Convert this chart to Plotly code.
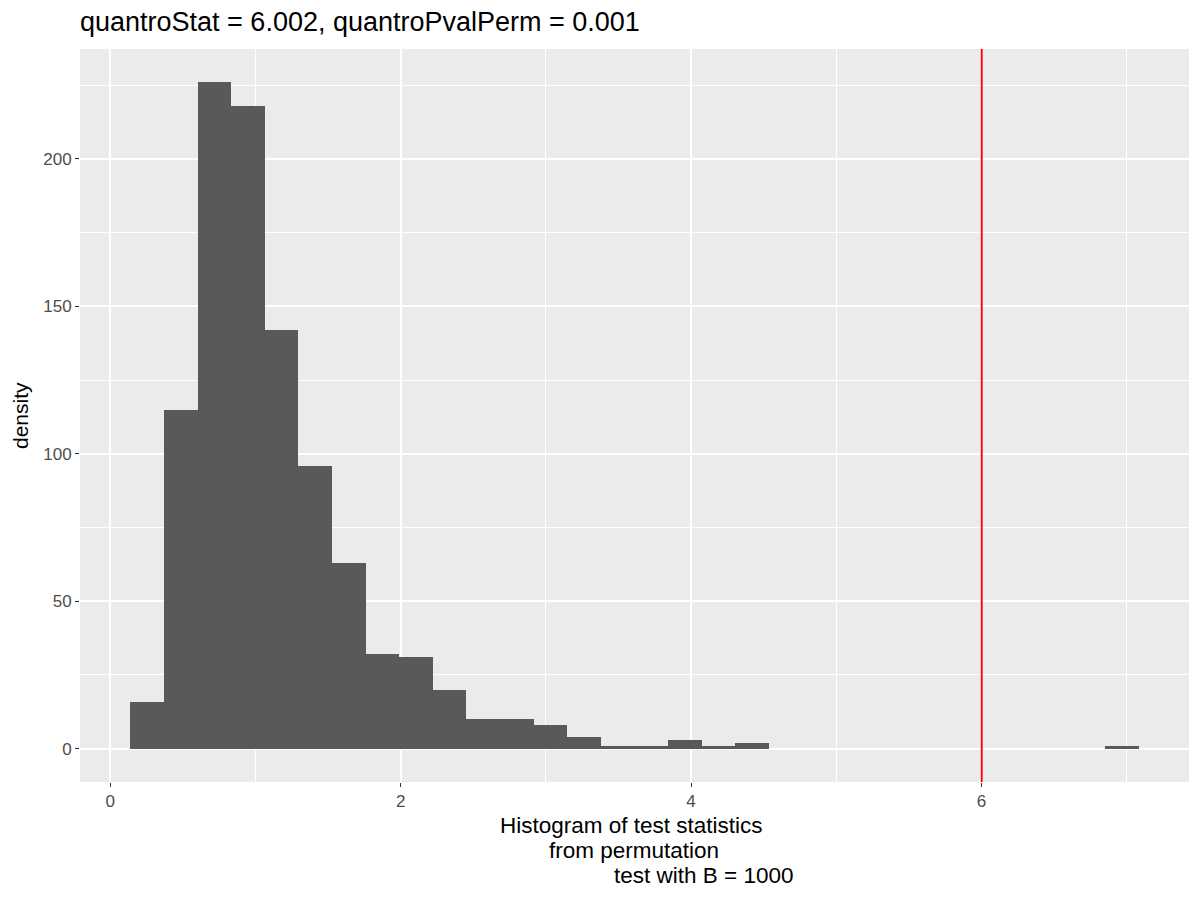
import plotly.graph_objects as go

# histogram of permutation test statistics (30 bins, ggplot style)
bin_first_center = 0.254
bin_width = 0.2315
counts = [16, 115, 226, 218, 142, 96, 63, 32, 31, 20,
          10, 10, 8, 4, 1, 1, 3, 1, 2, 0,
          0, 0, 0, 0, 0, 0, 0, 0, 0, 1]
observed_stat = 6.002

title_text = "quantroStat = 6.002, quantroPvalPerm = 0.001"
xlab_lines = ["Histogram of test statistics", "from permutation", "test with B = 1000"]
xlab_centers = [631.7, 633.5, 703]  # page pixel centres of each line
ylab_text = "density"

centers = [bin_first_center + i * bin_width for i in range(len(counts))]

fig = go.Figure()
fig.add_trace(go.Bar(x=centers, y=counts, width=bin_width,
                     marker=dict(color="#595959", line=dict(width=0)),
                     hoverinfo="x+y"))

fig.add_vline(x=observed_stat, line=dict(color="#FF0000", width=1.9))

font = "Liberation Sans, Arial, sans-serif"
W, H = 1200, 900
OFF = 8  # page body margin of the browser
L, R, T, B = 72, 19, 41, 126
px_left, px_right, px_top, px_bot = L + OFF, W + OFF - R, T + OFF, H + OFF - B


def paper_x(px):
    return (px - px_left) / (px_right - px_left)


def paper_y(py):
    return (px_bot - py) / (px_bot - px_top)


fig.update_layout(
    width=W, height=H,
    margin=dict(l=L, r=R, t=T, b=B, autoexpand=False),
    paper_bgcolor="white", plot_bgcolor="#EBEBEB",
    showlegend=False, bargap=0,
    font=dict(family=font, color="black"),
    title=dict(text=title_text, x=(80 - OFF) / W, xanchor="left",
               y=1 - (22 - OFF) / H, yanchor="middle",
               font=dict(size=27, color="black")),
    xaxis=dict(range=[-0.209, 7.43], tickvals=[0, 2, 4, 6], ticks="outside",
               ticklen=4, tickwidth=1.1, tickcolor="#333333",
               tickfont=dict(size=17, color="#4D4D4D"),
               showgrid=True, gridcolor="white", gridwidth=1.6,
               minor=dict(tickvals=[1, 3, 5, 7], showgrid=True, gridcolor="white", gridwidth=0.8),
               zeroline=False, showline=False, automargin=False),
    yaxis=dict(range=[-11.3, 237.3], tickvals=[0, 50, 100, 150, 200], ticks="outside",
               ticklen=4, tickwidth=1.1, tickcolor="#333333",
               tickfont=dict(size=17, color="#4D4D4D"),
               showgrid=True, gridcolor="white", gridwidth=1.6,
               minor=dict(tickvals=[25, 75, 125, 175, 225], showgrid=True, gridcolor="white", gridwidth=0.8),
               zeroline=False, showline=False, automargin=False),
)

fig.add_annotation(text=ylab_text, xref="paper", yref="paper",
                   x=paper_x(20), y=paper_y(416), xanchor="center", yanchor="middle",
                   textangle=-90, showarrow=False, font=dict(size=21, color="black"))

for i, (line, cx) in enumerate(zip(xlab_lines, xlab_centers)):
    fig.add_annotation(text=line, xref="paper", yref="paper",
                       x=paper_x(cx), y=paper_y(825 + 25 * i),
                       xanchor="center", yanchor="middle", showarrow=False,
                       font=dict(size=22.5, color="black"))

fig.write_html("out.html")
